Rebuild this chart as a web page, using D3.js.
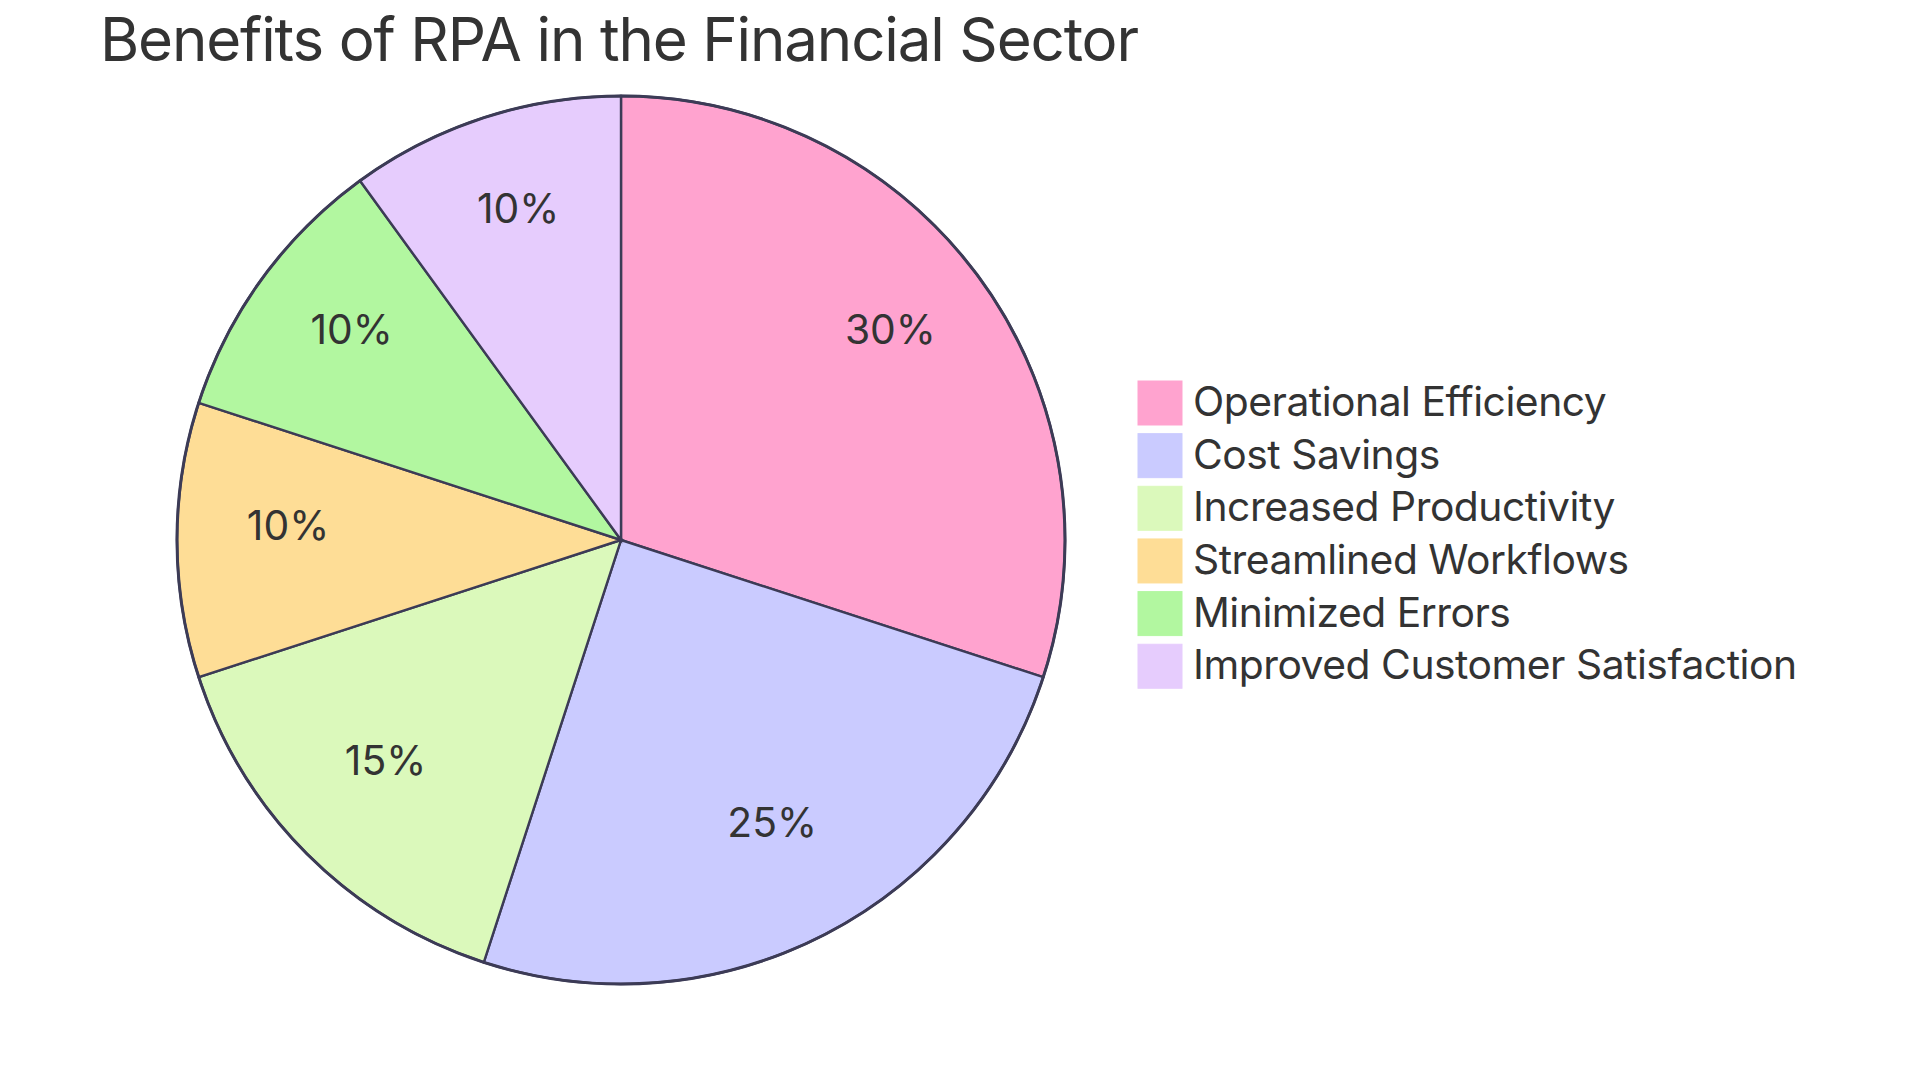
<!DOCTYPE html>
<html>
<head>
<meta charset="utf-8">
<script src="https://cdn.jsdelivr.net/npm/d3@7"></script>
<style>
  html, body { margin: 0; padding: 0; background: #ffffff; }
  svg { display: block; }
  text { font-family: Inter, "Noto Sans", sans-serif; fill: #333333; }
</style>
</head>
<body>
<svg id="chart" width="1920" height="1080"></svg>
<script>
const titleText = "Benefits of RPA in the Financial Sector";
const categories = ["Operational Efficiency", "Cost Savings", "Increased Productivity", "Streamlined Workflows", "Minimized Errors", "Improved Customer Satisfaction"];
const values = [30, 25, 15, 10, 10, 10];
const colors = ["#FFA3CF", "#CACBFF", "#DBF9BB", "#FEDD96", "#B2F7A0", "#E6CCFD"];

const svg = d3.select("#chart");
const cx = 621, cy = 540, radius = 444;
const strokeColor = "#3c3b56";

const data = categories.map((c, i) => ({ name: c, value: values[i], color: colors[i] }));
const total = d3.sum(values);

const pie = d3.pie().value(d => d.value).sort(null);
const arc = d3.arc().innerRadius(0).outerRadius(radius);
const labelArc = d3.arc().innerRadius(radius * 0.75).outerRadius(radius * 0.75);

const g = svg.append("g").attr("transform", `translate(${cx},${cy})`);

g.selectAll("path.slice")
  .data(pie(data))
  .join("path")
  .attr("class", "slice")
  .attr("d", arc)
  .attr("fill", d => d.data.color)
  .attr("stroke", strokeColor)
  .attr("stroke-width", 2.4);

g.append("circle")
  .attr("r", radius)
  .attr("fill", "none")
  .attr("stroke", strokeColor)
  .attr("stroke-width", 3);

g.selectAll("text.lbl")
  .data(pie(data))
  .join("text")
  .attr("class", "lbl")
  .attr("transform", d => `translate(${labelArc.centroid(d)})`)
  .attr("text-anchor", "middle")
  .attr("font-size", 40.8)
  .text(d => Math.round(d.data.value / total * 100) + "%");

// title
const title = svg.append("text")
  .attr("x", 100)
  .attr("y", 61)
  .attr("font-size", 60)
  .text(titleText);
{
  const w = title.node().getComputedTextLength();
  const ls = (1039 - w) / (titleText.length - 1);
  title.attr("letter-spacing", ls);
}

// legend
const legX = 1138, legY = 381, legStep = 52.65, sq = 44;
const leg = svg.append("g");
const items = leg.selectAll("g.item")
  .data(data)
  .join("g")
  .attr("class", "item")
  .attr("transform", (d, i) => `translate(${legX},${legY + i * legStep})`);
items.append("rect")
  .attr("width", sq)
  .attr("height", sq)
  .attr("fill", d => d.color)
  .attr("stroke", d => d.color);
const legTexts = items.append("text")
  .attr("x", 55)
  .attr("y", 35)
  .attr("font-size", 40.8)
  .text(d => d.name);
{
  const last = legTexts.nodes()[legTexts.size() - 1];
  const w = last.getComputedTextLength();
  const str = categories[categories.length - 1];
  const ls = (604 - w) / (str.length - 1);
  legTexts.attr("letter-spacing", ls);
}
</script>
</body>
</html>
